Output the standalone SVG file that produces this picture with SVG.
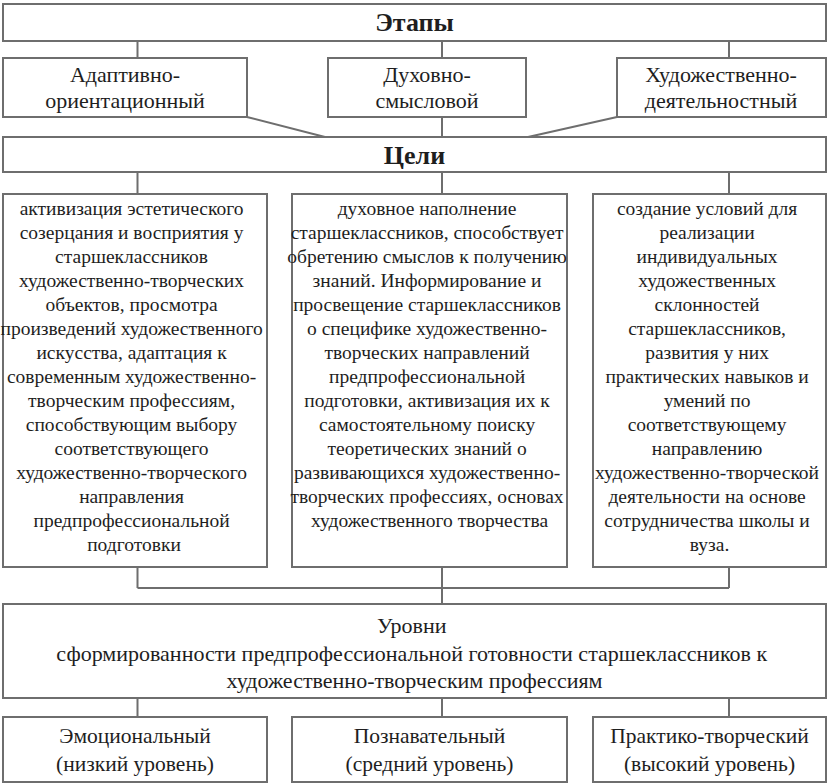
<svg xmlns="http://www.w3.org/2000/svg" width="828" height="783" viewBox="0 0 828 783">
<style>
.box{fill:#fff;stroke:#6e6e6e;stroke-width:2}
.ln{fill:none;stroke:#6e6e6e;stroke-width:2}
text{font-family:'Liberation Serif','DejaVu Serif','Times New Roman',serif;fill:#1e1e1e;text-anchor:middle}
.title{font-size:26px;font-weight:bold}
.stage{font-size:22px}
.goal{font-size:19.5px}
.lvl{font-size:22px}
.bot{font-size:21.5px}
</style>
<rect width="828" height="783" fill="#fff"/>
<g id="connectors">
<path class="ln" d="M137.5 41V58M442 41V58M729 41V58"/>
<path class="ln" d="M247 117L325 137M442 117V137M617 117L528 137"/>
<path class="ln" d="M137.5 172V194M442 172V194M729 172V194"/>
<path class="ln" d="M137.5 567V588M442 567V604M729 567V588M137.5 588H729"/>
<path class="ln" d="M137.5 698V717M442 698V717M729 698V717"/>
</g>
<g id="etapy">
<rect class="box" x="3" y="4" width="823" height="37"/>
<text class="title" x="414.5" y="31">Этапы</text>
</g>
<g id="stage1">
<rect class="box" x="3" y="58" width="244" height="59"/>
<text class="stage" x="125" y="82">Адаптивно-</text>
<text class="stage" x="125" y="108">ориентационный</text>
</g>
<g id="stage2">
<rect class="box" x="328" y="58" width="198" height="59"/>
<text class="stage" x="427" y="82">Духовно-</text>
<text class="stage" x="427" y="108">смысловой</text>
</g>
<g id="stage3">
<rect class="box" x="617" y="58" width="209" height="59"/>
<text class="stage" x="721" y="82">Художественно-</text>
<text class="stage" x="721" y="108">деятельностный</text>
</g>
<g id="celi">
<rect class="box" x="3" y="137" width="823" height="35"/>
<text class="title" x="414.5" y="164">Цели</text>
</g>
<g id="goal1">
<rect class="box" x="3" y="194" width="264" height="373"/>
<text class="goal" x="134">
<tspan x="134" y="215">активизация эстетического</tspan>
<tspan x="134" y="239">созерцания и восприятия у</tspan>
<tspan x="134" y="263">старшеклассников</tspan>
<tspan x="134" y="287">художественно-творческих</tspan>
<tspan x="134" y="311">объектов, просмотра</tspan>
<tspan x="134" y="335">произведений художественного</tspan>
<tspan x="134" y="359">искусства, адаптация к</tspan>
<tspan x="134" y="383">современным художественно-</tspan>
<tspan x="134" y="407">творческим профессиям,</tspan>
<tspan x="134" y="431">способствующим выбору</tspan>
<tspan x="134" y="455">соответствующего</tspan>
<tspan x="134" y="479">художественно-творческого</tspan>
<tspan x="134" y="503">направления</tspan>
<tspan x="134" y="527">предпрофессиональной</tspan>
<tspan x="134" y="551">подготовки</tspan>
</text>
</g>
<g id="goal2">
<rect class="box" x="292" y="194" width="275" height="373"/>
<text class="goal" x="429.5">
<tspan x="429.5" y="215">духовное наполнение</tspan>
<tspan x="429.5" y="239">старшеклассников, способствует</tspan>
<tspan x="429.5" y="263">обретению смыслов к получению</tspan>
<tspan x="429.5" y="287">знаний. Информирование и</tspan>
<tspan x="429.5" y="311">просвещение старшеклассников</tspan>
<tspan x="429.5" y="335">о специфике художественно-</tspan>
<tspan x="429.5" y="359">творческих направлений</tspan>
<tspan x="429.5" y="383">предпрофессиональной</tspan>
<tspan x="429.5" y="407">подготовки, активизация их к</tspan>
<tspan x="429.5" y="431">самостоятельному поиску</tspan>
<tspan x="429.5" y="455">теоретических знаний о</tspan>
<tspan x="429.5" y="479">развивающихся художественно-</tspan>
<tspan x="429.5" y="503">творческих профессиях, основах</tspan>
<tspan x="429.5" y="527">художественного творчества</tspan>
</text>
</g>
<g id="goal3">
<rect class="box" x="593" y="194" width="233" height="373"/>
<text class="goal" x="709.5">
<tspan x="709.5" y="215">создание условий для</tspan>
<tspan x="709.5" y="239">реализации</tspan>
<tspan x="709.5" y="263">индивидуальных</tspan>
<tspan x="709.5" y="287">художественных</tspan>
<tspan x="709.5" y="311">склонностей</tspan>
<tspan x="709.5" y="335">старшеклассников,</tspan>
<tspan x="709.5" y="359">развития у них</tspan>
<tspan x="709.5" y="383">практических навыков и</tspan>
<tspan x="709.5" y="407">умений по</tspan>
<tspan x="709.5" y="431">соответствующему</tspan>
<tspan x="709.5" y="455">направлению</tspan>
<tspan x="709.5" y="479">художественно-творческой</tspan>
<tspan x="709.5" y="503">деятельности на основе</tspan>
<tspan x="709.5" y="527">сотрудничества школы и</tspan>
<tspan x="709.5" y="551">вуза.</tspan>
</text>
</g>
<g id="levels">
<rect class="box" x="3" y="604" width="823" height="94"/>
<text class="lvl" x="414.5">
<tspan x="414.5" y="633">Уровни</tspan>
<tspan x="414.5" y="661">сформированности предпрофессиональной готовности старшеклассников к</tspan>
<tspan x="414.5" y="688">художественно-творческим профессиям</tspan>
</text>
</g>
<g id="low">
<rect class="box" x="3" y="717" width="264" height="65"/>
<text class="bot" x="135" y="743">Эмоциональный</text>
<text class="bot" x="135" y="771">(низкий уровень)</text>
</g>
<g id="mid">
<rect class="box" x="292" y="717" width="275" height="65"/>
<text class="bot" x="429.5" y="743">Познавательный</text>
<text class="bot" x="429.5" y="771">(средний уровень)</text>
</g>
<g id="high">
<rect class="box" x="593" y="717" width="233" height="65"/>
<text class="bot" x="709.5" y="743">Практико-творческий</text>
<text class="bot" x="709.5" y="771">(высокий уровень)</text>
</g>
</svg>
